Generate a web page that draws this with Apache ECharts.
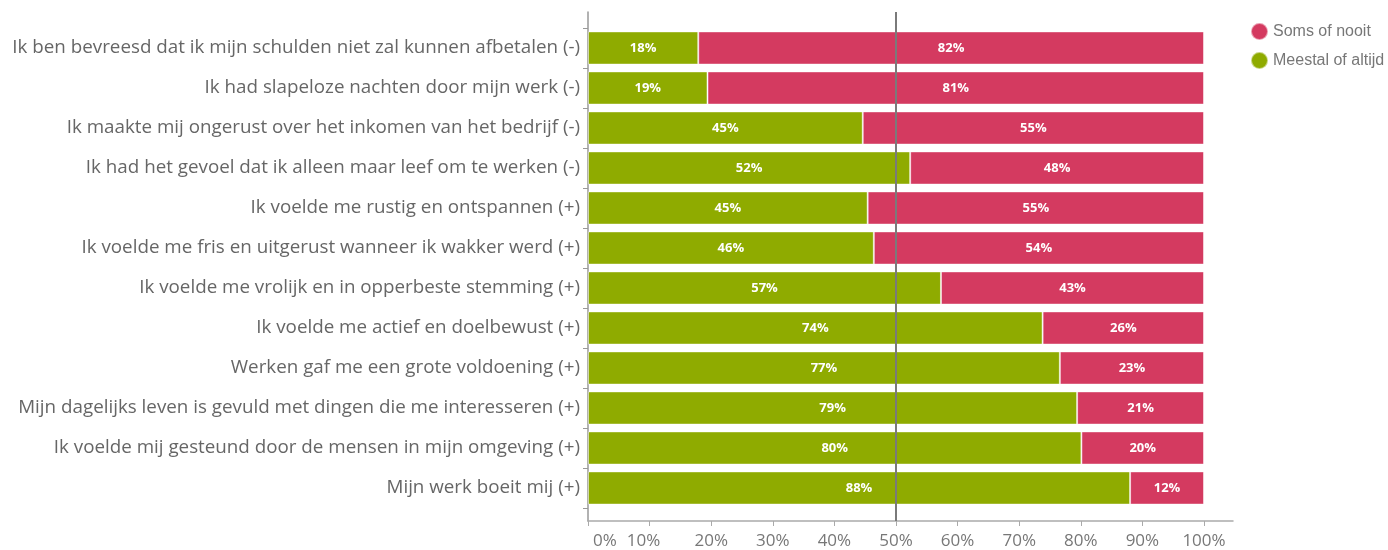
<!DOCTYPE html>
<html>
<head>
<meta charset="utf-8">
<script src="https://cdn.jsdelivr.net/npm/echarts@6/dist/echarts.min.js"></script>
<style>
html,body{margin:0;padding:0;background:#fff;}
#c{width:1388px;height:550px;}
</style>
</head>
<body>
<div id="c"></div>
<script>
var categories = [
  'Ik ben bevreesd dat ik mijn schulden niet zal kunnen afbetalen (-)',
  'Ik had slapeloze nachten door mijn werk (-)',
  'Ik maakte mij ongerust over het inkomen van het bedrijf (-)',
  'Ik had het gevoel dat ik alleen maar leef om te werken (-)',
  'Ik voelde me rustig en ontspannen (+)',
  'Ik voelde me fris en uitgerust wanneer ik wakker werd (+)',
  'Ik voelde me vrolijk en in opperbeste stemming (+)',
  'Ik voelde me actief en doelbewust (+)',
  'Werken gaf me een grote voldoening (+)',
  'Mijn dagelijks leven is gevuld met dingen die me interesseren (+)',
  'Ik voelde mij gesteund door de mensen in mijn omgeving (+)',
  'Mijn werk boeit mij (+)'
];
var seriesNames = ['Meestal of altijd', 'Soms of nooit'];
var meestalValues = [17.9, 19.4, 44.6, 52.3, 45.4, 46.4, 57.3, 73.8, 76.6, 79.4, 80.1, 88.0];
var somsValues    = [82.1, 80.6, 55.4, 47.7, 54.6, 53.6, 42.7, 26.2, 23.4, 20.6, 19.9, 12.0];
var tickValues = [0, 10, 20, 30, 40, 50, 60, 70, 80, 90, 100];
var referenceLine = 50;

var FONT = '"Open Sans", "Noto Sans", sans-serif';
var GREEN = '#8fab00';
var RED = '#d43a60';

var chart = echarts.init(document.getElementById('c'), null, {renderer: 'canvas'});

var barLabel = {
  show: true,
  position: 'inside',
  color: '#fff',
  fontWeight: 'bold',
  fontSize: 13,
  fontFamily: FONT,
  formatter: function (p) { return Math.round(p.value) + '%'; }
};

chart.setOption({
  animation: false,
  backgroundColor: '#fff',
  legend: {
    orient: 'vertical',
    left: 1250,
    top: 22,
    padding: 0,
    icon: 'circle',
    itemWidth: 17,
    itemHeight: 17,
    itemGap: 10,
    itemTextGap: 6,
    data: ['Soms of nooit', 'Meestal of altijd'],
    textStyle: {color: '#777', fontSize: 16, fontFamily: '"Liberation Sans", Arial, sans-serif'}
  },
  grid: [
    {left: 588, width: 616, top: 28, height: 480, containLabel: false},
    {left: 588, width: 645, top: 12, bottom: 27, containLabel: false}
  ],
  xAxis: [
    {gridIndex: 0, type: 'value', min: 0, max: 100, show: false},
    {
      gridIndex: 1, type: 'value', min: 0, max: 100 * 645 / 616,
      axisLine: {show: true, lineStyle: {color: '#aaa', width: 1.5}},
      axisTick: {show: true, length: 5, customValues: tickValues, lineStyle: {color: '#aaa'}},
      splitLine: {show: false},
      axisLabel: {
        customValues: tickValues,
        margin: 12,
        color: '#777',
        fontSize: 17,
        fontFamily: FONT,
        formatter: function (v) {
          if (v === 0) return '{z|0%}';
          if (v === 10) return '{t|10%}';
          return v + '%';
        },
        rich: {
          z: {padding: [0, 0, 0, 34], fontSize: 17, color: '#777', fontFamily: FONT},
          t: {padding: [0, 12, 0, 0], fontSize: 17, color: '#777', fontFamily: FONT}
        }
      }
    }
  ],
  yAxis: [
    {
      gridIndex: 0, type: 'category', inverse: true, data: categories,
      axisLine: {show: false},
      axisTick: {show: true, length: 5, lineStyle: {color: '#999'}},
      axisLabel: {color: '#666', fontSize: 18.8, fontFamily: FONT, margin: 8}
    },
    {
      gridIndex: 1, type: 'value', min: 0, max: 1,
      axisLine: {show: true, lineStyle: {color: '#999', width: 1.5}},
      axisTick: {show: false}, axisLabel: {show: false}, splitLine: {show: false}
    }
  ],
  series: [
    {
      name: seriesNames[0], type: 'bar', stack: 'total',
      xAxisIndex: 0, yAxisIndex: 0,
      barCategoryGap: '17%',
      data: meestalValues,
      itemStyle: {color: GREEN, borderColor: 'rgba(255,255,255,0.5)', borderWidth: 1},
      label: barLabel
    },
    {
      name: seriesNames[1], type: 'bar', stack: 'total',
      xAxisIndex: 0, yAxisIndex: 0,
      barCategoryGap: '17%',
      data: somsValues,
      itemStyle: {color: RED, borderColor: 'rgba(255,255,255,0.5)', borderWidth: 1},
      label: barLabel
    },
    {
      name: 'ref', type: 'line', xAxisIndex: 1, yAxisIndex: 1, data: [], z: 10,
      markLine: {
        silent: true, symbol: 'none', label: {show: false},
        lineStyle: {color: '#7a7a7a', width: 2, type: 'solid'},
        data: [{xAxis: referenceLine}]
      }
    }
  ]
});
</script>
</body>
</html>
